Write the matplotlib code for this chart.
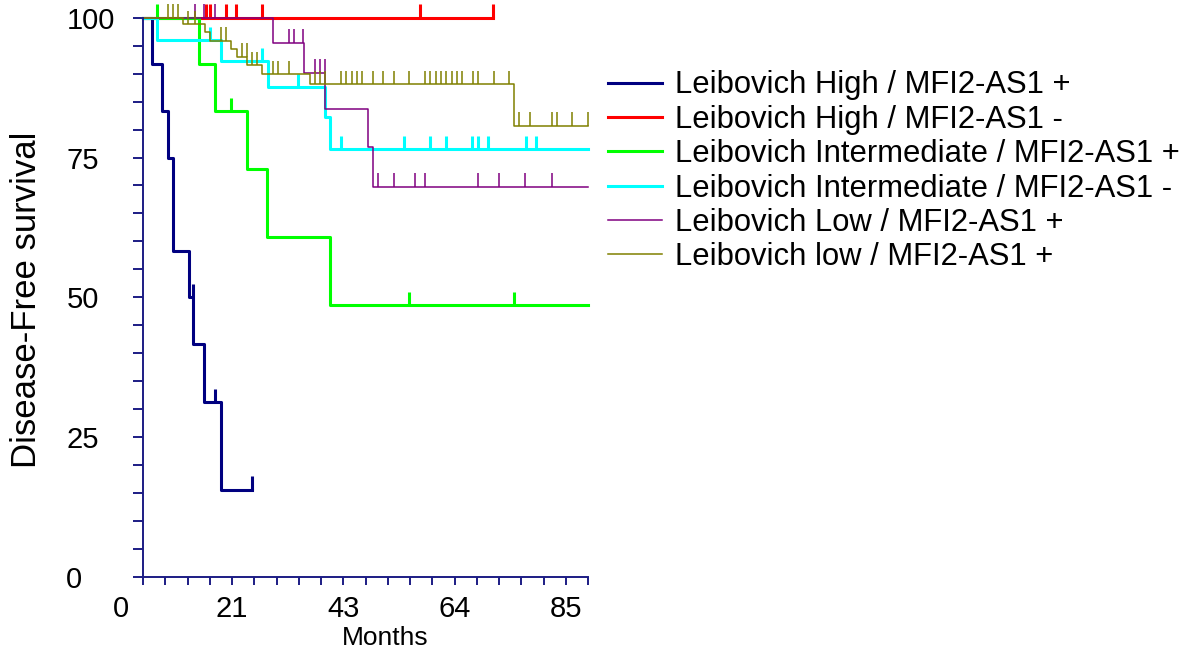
import numpy as np
import matplotlib
matplotlib.use('Agg')
import matplotlib.pyplot as plt

plt.rcParams['font.family'] = ['Liberation Sans', 'DejaVu Sans']

# legend labels, in drawing order
groups = ['Leibovich High / MFI2-AS1 +',
          'Leibovich High / MFI2-AS1 -',
          'Leibovich Intermediate / MFI2-AS1 +',
          'Leibovich Intermediate / MFI2-AS1 -',
          'Leibovich Low / MFI2-AS1 +',
          'Leibovich low / MFI2-AS1 +']

# event times (months), survival (%) after each event, censored times
high_pos_events = [1.66, 3.57, 4.83, 5.64, 8.79, 9.61, 11.65, 14.84]
high_pos_surv = [91.7, 83.3, 75.0, 58.3, 50.0, 41.7, 31.25, 15.6]
high_pos_cens = [9.5, 13.75, 20.88]

high_neg_events = []
high_neg_surv = []
high_neg_cens = [11.98, 12.8, 15.9, 17.8, 22.8, 52.9, 66.9]

int_pos_events = [10.75, 13.75, 19.8, 23.6, 35.7]
int_pos_surv = [91.7, 83.3, 72.9, 60.8, 48.6]
int_pos_cens = [2.62, 16.8, 50.9, 70.9]

int_neg_events = [2.73, 14.84, 23.8, 34.8, 35.7]
int_neg_surv = [96.0, 92.2, 87.6, 82.3, 76.5]
int_neg_cens = [12.8, 22.8, 29.7, 37.9, 49.9, 54.8, 57.9, 62.9, 63.9, 65.9, 73.1, 75.0]

low_pos_events = [24.9, 30.75, 34.8, 42.9, 43.9]
low_pos_surv = [95.5, 90.2, 83.7, 76.8, 69.8]
low_pos_cens = [9.9, 11.7, 13.75, 27.8, 28.8, 30.6, 32.9, 33.8, 34.7,
                44.8, 47.9, 51.96, 53.9, 63.9, 68.0, 73.0, 78.1]

low2_pos_events = [7.7, 11.75, 12.8, 16.75, 18.0, 19.9, 22.7, 31.9, 70.9]
low2_pos_surv = [98.8, 97.4, 95.9, 94.4, 93.0, 91.5, 89.9, 88.1, 80.7]
low2_pos_cens = [4.83, 5.67, 6.78, 8.65, 9.93, 14.84, 15.8, 18.85, 19.8,
                 20.9, 21.8, 24.9, 25.8, 27.9, 32.86, 33.8, 34.77, 37.8,
                 38.8, 39.9, 40.8, 41.9, 43.9, 45.8, 47.9, 50.8, 53.9, 54.8,
                 55.9, 56.9, 57.97, 58.97, 59.9, 60.9, 63.0, 63.9, 67.05,
                 70.0, 71.9, 73.98, 78.07, 79.0, 81.9, 84.95]

# last follow-up shown for each group
followup = [20.88, 66.9, 85, 85, 85, 85]

events = [high_pos_events, high_neg_events, int_pos_events,
          int_neg_events, low_pos_events, low2_pos_events]
surv = [high_pos_surv, high_neg_surv, int_pos_surv,
        int_neg_surv, low_pos_surv, low2_pos_surv]
cens = [high_pos_cens, high_neg_cens, int_pos_cens,
        int_neg_cens, low_pos_cens, low2_pos_cens]

colors = ['#000080', '#ff0000', '#00ff00', '#00ffff', '#800080', '#808000']
widths = [2.2, 2.2, 2.2, 2.2, 1.1, 1.1]
axis_color = '#1c1c84'
tick_h = 2.4

fig = plt.figure(figsize=(11.9, 6.52), dpi=100)
ax = fig.add_axes([120.75 / 1190, 75 / 652, 467.25 / 1190, 559.3 / 652])

for ev, sv, cn, end, col, lw, lab in zip(events, surv, cens, followup,
                                         colors, widths, groups):
    t = [0] + ev + [end]
    s = [100] + sv + [([100] + sv)[-1]]
    ax.step(t, s, where='post', color=col, lw=lw, label=lab, clip_on=False)
    levels = np.array([100] + sv)[np.searchsorted(ev, cn, side='right')]
    ax.vlines(cn, levels, levels + tick_h, color=col, lw=lw, clip_on=False)

ax.set_xlim(-4.25, 85)
ax.set_ylim(0, 100)

for side in ['top', 'right']:
    ax.spines[side].set_visible(False)
ax.spines['left'].set_position(('data', 0))
ax.spines['bottom'].set_bounds(0, 85)
for side in ['left', 'bottom']:
    ax.spines[side].set_color(axis_color)
    ax.spines[side].set_linewidth(1.4)

ax.xaxis.remove_overlapping_locs = False
ax.set_xticks(np.arange(0, 85.01, 4.25), minor=True)
ax.set_xticks([-4.25, 17, 38.25, 59.5, 80.75])
ax.set_xticklabels(['0', '21', '43', '64', '85'])
ax.tick_params(axis='x', which='major', length=0, pad=13, labelsize=21)
ax.tick_params(axis='x', which='minor', length=6, width=1.4,
               color=axis_color, direction='out')

ax.set_yticks([0, 25, 50, 75, 100])
ax.set_yticks(np.arange(0, 100.1, 5), minor=True)
ax.tick_params(axis='y', which='both', length=7.2, width=1.4,
               color=axis_color, direction='out')
ax.tick_params(axis='y', which='major', pad=48, labelsize=21)
for lbl in ax.get_yticklabels():
    lbl.set_horizontalalignment('left')

fig.text(27 / 1190, 1 - 300 / 652, 'Disease-Free survival', rotation=90,
         ha='center', va='center', fontsize=25)
fig.text(385 / 1190, 1 - 638 / 652, 'Months', ha='center', va='center',
         fontsize=19)

fig.legend(loc='upper left', bbox_to_anchor=(608 / 1190, 1 - 70.5 / 652),
           frameon=False, fontsize=22.3, handlelength=1.75, handletextpad=0.42,
           labelspacing=0.14, borderpad=0, borderaxespad=0)

fig.savefig('out.png', dpi=100)
